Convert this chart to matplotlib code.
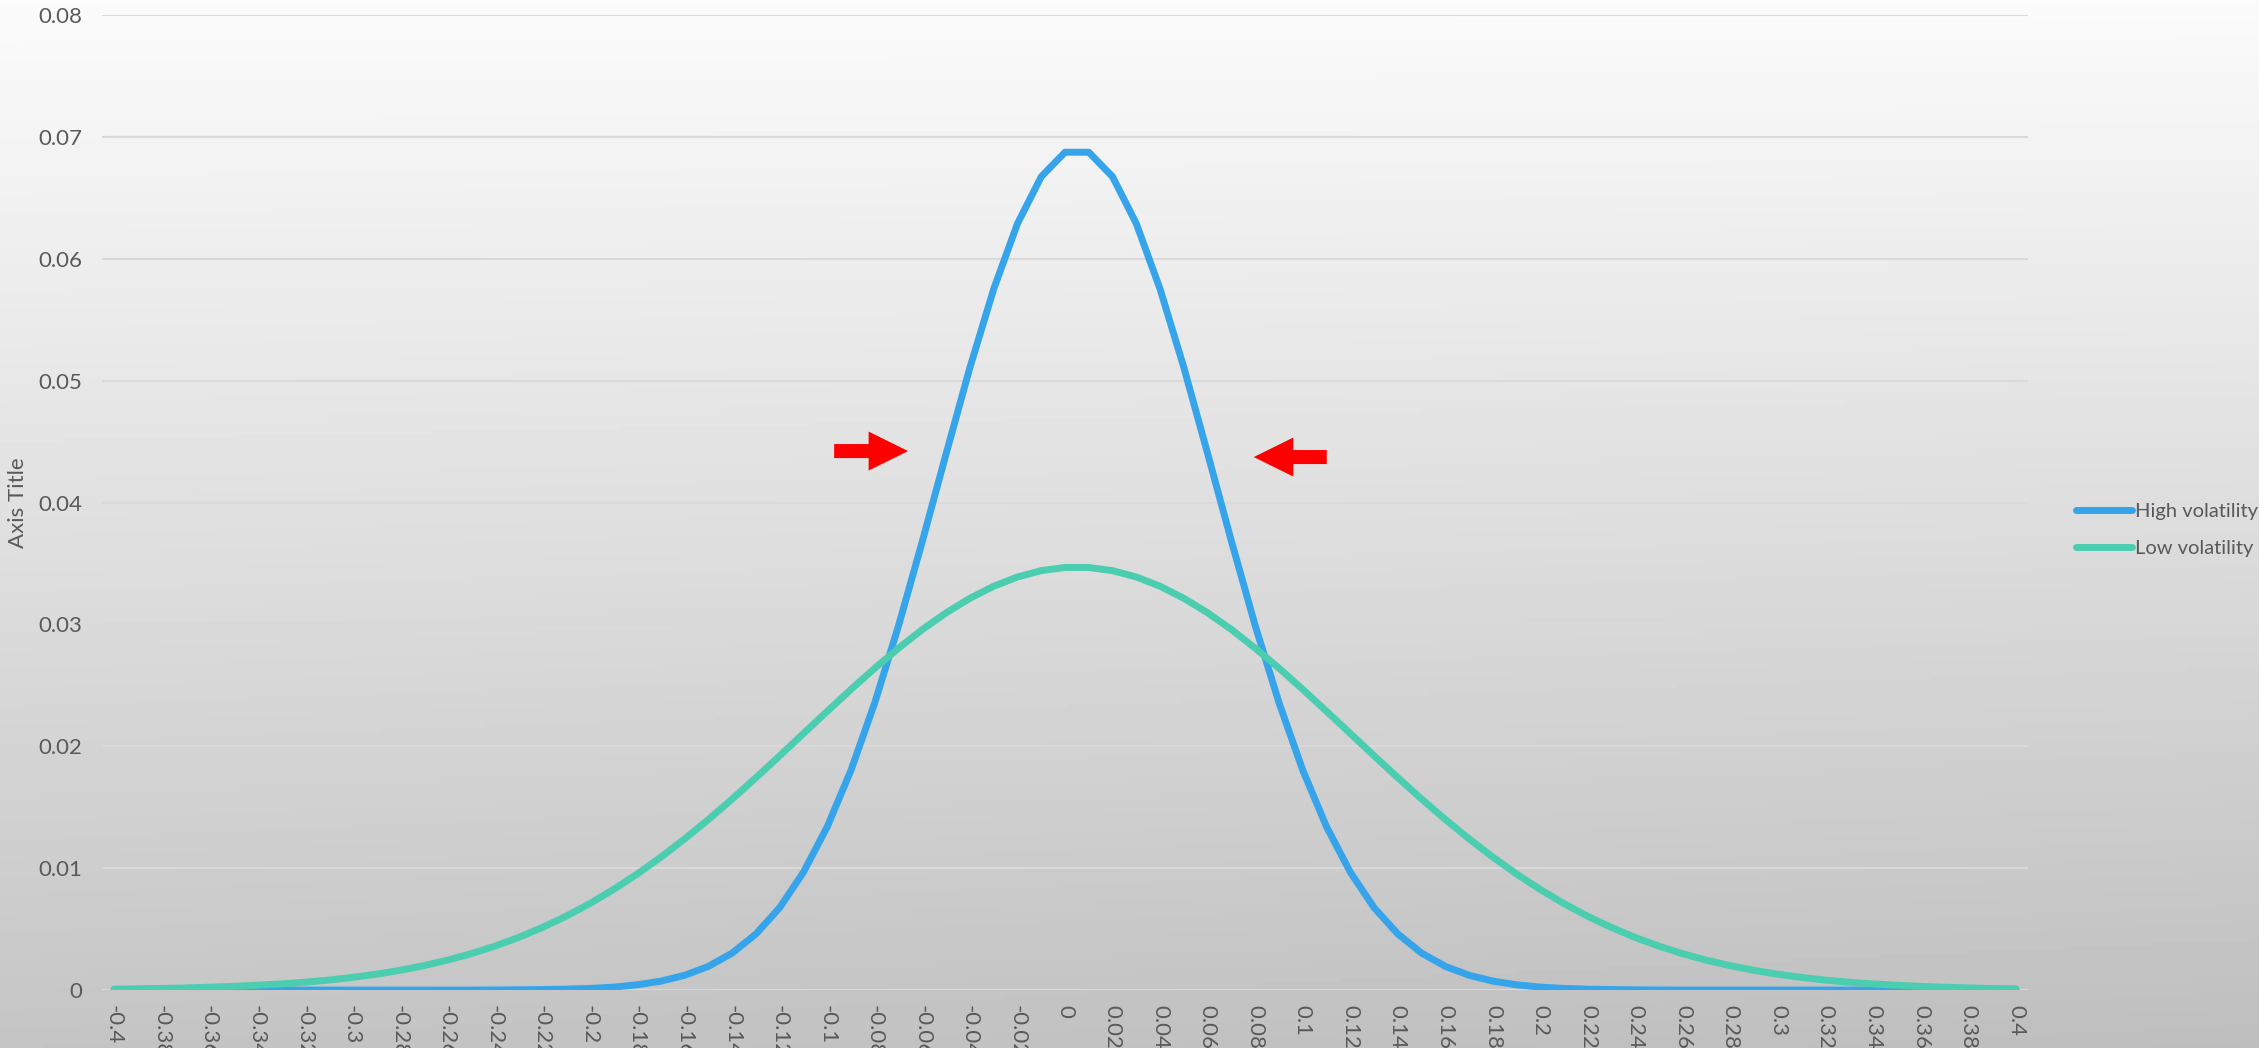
import numpy as np
import matplotlib.pyplot as plt
from matplotlib.patches import FancyArrow

# Dados
x = [round(-0.40 + 0.01 * i, 2) for i in range(81)]

high_vol = [0, 0, 0, 0, 0, 0, 0, 0, 0, 0, 0, 0, 0, 0, 0, 0,
            0.00001, 0.00002, 0.00004, 0.00007, 0.00013, 0.00024, 0.00043, 0.00073,
            0.00121, 0.00194, 0.00303, 0.00460, 0.00676, 0.00967, 0.01340, 0.01804,
            0.02358, 0.02990, 0.03682, 0.04401, 0.05107, 0.05751, 0.06288, 0.06673,
            0.06874,
            0.06874, 0.06673, 0.06288, 0.05751, 0.05107, 0.04401, 0.03682, 0.02990,
            0.02358, 0.01804, 0.01340, 0.00967, 0.00676, 0.00460, 0.00303, 0.00194,
            0.00121, 0.00073, 0.00043, 0.00024, 0.00013, 0.00007, 0.00004, 0.00002,
            0.00001, 0, 0, 0, 0, 0, 0, 0, 0, 0, 0, 0, 0, 0, 0, 0]

low_vol = [0.00007, 0.00010, 0.00013, 0.00017, 0.00023, 0.00030, 0.00039, 0.00050,
           0.00064, 0.00081, 0.00103, 0.00129, 0.00161, 0.00199, 0.00244, 0.00297,
           0.00359, 0.00430, 0.00512, 0.00604, 0.00708, 0.00824, 0.00951, 0.01090,
           0.01240, 0.01399, 0.01567, 0.01742, 0.01922, 0.02105, 0.02287, 0.02467,
           0.02641, 0.02805, 0.02958, 0.03095, 0.03214, 0.03313, 0.03389, 0.03441,
           0.03467,
           0.03467, 0.03441, 0.03389, 0.03313, 0.03214, 0.03095, 0.02958, 0.02805,
           0.02641, 0.02467, 0.02287, 0.02105, 0.01922, 0.01742, 0.01567, 0.01399,
           0.01240, 0.01090, 0.00951, 0.00824, 0.00708, 0.00604, 0.00512, 0.00430,
           0.00359, 0.00297, 0.00244, 0.00199, 0.00161, 0.00129, 0.00103, 0.00081,
           0.00064, 0.00050, 0.00039, 0.00030, 0.00023, 0.00017, 0.00013, 0.00010]

x_ticks = x[::2]
x_labels = ["-0.4", "-0.38", "-0.36", "-0.34", "-0.32", "-0.3", "-0.28", "-0.26",
            "-0.24", "-0.22", "-0.2", "-0.18", "-0.16", "-0.14", "-0.12", "-0.1",
            "-0.08", "-0.06", "-0.04", "-0.02", "0", "0.02", "0.04", "0.06", "0.08",
            "0.1", "0.12", "0.14", "0.16", "0.18", "0.2", "0.22", "0.24", "0.26",
            "0.28", "0.3", "0.32", "0.34", "0.36", "0.38", "0.4"]
y_ticks = [0, 0.01, 0.02, 0.03, 0.04, 0.05, 0.06, 0.07, 0.08]
y_labels = ["0", "0.01", "0.02", "0.03", "0.04", "0.05", "0.06", "0.07", "0.08"]

# setas vermelhas (cauda x, y, comprimento com sinal)
arrows = [(-0.0971, 0.04422, 0.0311), (0.1101, 0.04373, -0.0307)]

plt.rcParams["font.family"] = ["Lato", "DejaVu Sans"]
text_color = "#595959"

fig = plt.figure(figsize=(22.59, 10.48), dpi=100)

# fundo em degradê
bg = fig.add_axes([0, 0, 1, 1], zorder=-1)
grad = np.linspace(0.985, 0.77, 256).reshape(-1, 1)
grad = grad + np.linspace(0.0, -0.025, 256).reshape(1, -1) * np.linspace(0, 1, 256).reshape(-1, 1)
bg.imshow(grad, cmap="gray", vmin=0, vmax=1, aspect="auto", extent=[0, 1, 0, 1])
bg.axis("off")

ax = fig.add_axes([0.0452, 0.0553, 0.8525, 0.9304])
ax.patch.set_alpha(0)

ax.plot(x, high_vol, color="#35A4EA", lw=5, solid_capstyle="round",
        label="High volatility", zorder=3)
ax.plot(x, low_vol, color="#4BCDAF", lw=5, solid_capstyle="round",
        label="Low volatility", zorder=3)

for x0, y0, dx in arrows:
    ax.add_patch(FancyArrow(x0, y0, dx, 0, width=0.00115, head_width=0.0032,
                            head_length=0.0166, length_includes_head=True,
                            color="red", lw=0, zorder=4))

ax.set_xlim(-0.405, 0.405)
ax.set_ylim(0, 0.08)
ax.set_yticks(y_ticks)
ax.set_yticklabels(y_labels)
ax.set_xticks(x_ticks)
ax.set_xticklabels(x_labels, rotation=270)
ax.tick_params(axis="both", length=0, labelsize=16, labelcolor=text_color)
ax.tick_params(axis="y", pad=14)
ax.tick_params(axis="x", pad=11)
ax.grid(axis="y", color="#D9D9D9", lw=1.5)
ax.set_axisbelow(True)
for s in ax.spines.values():
    s.set_visible(False)

ax.set_ylabel("Axis Title", fontsize=16, color=text_color, labelpad=8)

fig.legend(loc="center left", bbox_to_anchor=(0.911, 0.4943), frameon=False,
           fontsize=14.5, handlelength=2.8, handletextpad=0.15, labelspacing=1.0,
           labelcolor=text_color)

plt.savefig("out.png", dpi=100)
